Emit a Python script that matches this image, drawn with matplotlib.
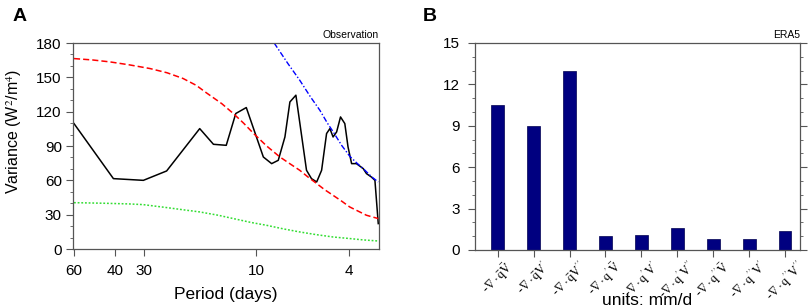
import numpy as np
import matplotlib
matplotlib.use("Agg")
import matplotlib.pyplot as plt
import matplotlib.transforms as mtransforms
from matplotlib.ticker import MultipleLocator, FixedLocator, NullLocator

plt.rcParams['font.family'] = ['Liberation Sans', 'DejaVu Sans']
plt.rcParams['mathtext.fontset'] = 'stix'

# ---- panel A data (period in days, variance) ----
obs_period = [60, 40.7, 30.3, 24.1, 17.4, 15.2, 13.4, 12.2, 11.0, 9.3, 8.57, 8.03,
              7.52, 7.16, 6.75, 6.08, 5.79, 5.5, 5.24, 4.99, 4.83, 4.68, 4.52,
              4.35, 4.17, 4.04, 3.90, 3.72, 3.48, 3.37, 3.21, 3.10, 3.0]
obs_var = [109.6, 61.5, 60.0, 68.2, 105.2, 91.5, 90.6, 118.4, 123.6, 80.4, 74.6, 77.5,
           97.9, 128.5, 134.4, 68.8, 61.5, 58.6, 68.8, 100.9, 105.2, 97.9, 102.3,
           115.4, 109.6, 89.2, 74.6, 74.6, 70.3, 65.9, 62.9, 60.0, 22.2]

red_period = [60, 50, 42.1, 35, 28.4, 24, 20.5, 18, 16.3, 14, 12.5, 11.3, 10.3, 9.0,
              7.9, 7.1, 6.5, 6.0, 5.5, 5.1, 4.68, 4.3, 3.97, 3.65, 3.37, 3.15, 3.0]
red_var = [166.4, 165.2, 163.5, 161.0, 157.7, 154.0, 149.0, 143.0, 136.5, 127.0, 118.4,
           110.0, 101.5, 90.0, 80.4, 74.0, 68.8, 63.0, 57.2, 52.0, 46.9, 41.8, 36.7,
           33.0, 29.5, 27.8, 26.6]

green_period = [60, 45, 35, 30.4, 24.1, 20, 17.4, 14.5, 12.5, 10.5, 9.0, 7.6, 6.5,
                5.5, 4.68, 4.0, 3.5, 3.0]
green_var = [40.5, 40.0, 39.4, 38.8, 36.2, 34.0, 32.4, 29.5, 26.6, 23.2, 20.7, 17.5,
             14.9, 12.5, 10.5, 9.2, 8.0, 7.0]

blue_period = [8.36, 7.3, 6.5, 5.85, 5.33, 4.95, 4.68, 4.3, 3.97, 3.7, 3.48, 3.2, 3.0]
blue_var = [180.0, 162.0, 147.5, 133.0, 121.2, 110.0, 102.5, 90.5, 81.0, 75.0, 70.3,
            63.0, 58.6]

period_ticks = [60, 40, 30, 10, 4]

# ---- panel B data ----
terms = [r'-$\nabla\cdot\mathrm{\bar{q}\bar{V}}$', r"-$\nabla\cdot\mathrm{\bar{q}V'}$",
         r"-$\nabla\cdot\mathrm{\bar{q}V''}$", r"-$\nabla\cdot\mathrm{q'\bar{V}}$",
         r"-$\nabla\cdot\mathrm{q'V'}$", r"-$\nabla\cdot\mathrm{q'V''}$",
         r"-$\nabla\cdot\mathrm{q''\bar{V}}$", r"-$\nabla\cdot\mathrm{q''V'}$",
         r"-$\nabla\cdot\mathrm{q''V''}$"]
era5_vals = [10.5, 9.0, 13.0, 1.0, 1.1, 1.6, 0.82, 0.78, 1.4]

frame = '#555555'

fig = plt.figure(figsize=(8.09, 3.07), dpi=100)

# ---------------- Panel A ----------------
ax1 = fig.add_axes([0.0902, 0.1889, 0.3782, 0.671])
ax1.plot(obs_period, obs_var, color='black', lw=1.1)
ax1.plot(red_period, red_var, color='red', lw=1.1, dashes=(4, 2))
ax1.plot(green_period, green_var, color='#33dd33', lw=1.1, dashes=(1.2, 1.2))
ax1.plot(blue_period, blue_var, color='blue', lw=1.0, dashes=(4, 1.5, 1, 1.5))
ax1.set_xscale('log')
ax1.set_xlim(60.6, 2.98)
ax1.set_ylim(0, 180)
ax1.xaxis.set_major_locator(FixedLocator(period_ticks))
ax1.xaxis.set_minor_locator(NullLocator())
ax1.set_xticklabels([str(p) for p in period_ticks])
ax1.yaxis.set_major_locator(MultipleLocator(30))
ax1.yaxis.set_minor_locator(MultipleLocator(10))
ax1.tick_params(axis='both', which='major', direction='out', length=5, width=0.8,
                color=frame, labelsize=11)
ax1.tick_params(axis='y', which='major', pad=3)
ax1.tick_params(axis='x', which='major', pad=6)
ax1.tick_params(axis='y', which='minor', direction='out', length=2.5, width=0.6, color=frame)
for s in ax1.spines.values():
    s.set_color(frame)
    s.set_linewidth(0.9)
ax1.set_xlabel('Period (days)', fontsize=12.5)
ax1.xaxis.set_label_coords(0.5, -0.185)
ax1.set_ylabel(r'Variance (W$^{2}$/m$^{4}$)', fontsize=11.5)
ax1.yaxis.set_label_coords(-0.16, 0.57)
ax1.text(1.0, 1.015, 'Observation', transform=ax1.transAxes, ha='right', va='bottom',
         fontsize=7.5, family=['Liberation Sans Narrow', 'Liberation Sans'])

# ---------------- Panel B ----------------
ax2 = fig.add_axes([0.5871, 0.1857, 0.4017, 0.6743])
xpos = np.arange(1, len(era5_vals) + 1)
ax2.bar(xpos, era5_vals, width=0.35, color='#000080', edgecolor='#000050', linewidth=0.5)
ax2.set_xlim(0.37, 9.41)
ax2.set_ylim(0, 15)
ax2.set_xticks(xpos)
ax2.set_xticklabels(terms, rotation=45, ha='center', va='top', fontsize=9,
                    family=['Liberation Serif', 'DejaVu Serif'])
shift = mtransforms.ScaledTranslation(4 / 100, 0, fig.dpi_scale_trans)
for lab in ax2.get_xticklabels():
    lab.set_transform(lab.get_transform() + shift)
ax2.yaxis.set_major_locator(MultipleLocator(3))
ax2.yaxis.set_minor_locator(MultipleLocator(1))
ax2.tick_params(axis='x', which='major', direction='out', length=5, width=0.8, color=frame, pad=1)
ax2.tick_params(axis='y', which='major', direction='out', length=5, width=0.8, color=frame,
                labelsize=11, pad=6, right=True)
ax2.tick_params(axis='y', which='minor', direction='out', length=2.5, width=0.6, color=frame,
                right=True)
for s in ax2.spines.values():
    s.set_color(frame)
    s.set_linewidth(0.9)
ax2.set_xlabel('units: mm/d', fontsize=12.5)
ax2.xaxis.set_label_coords(0.53, -0.21)
ax2.text(1.0, 1.015, 'ERA5', transform=ax2.transAxes, ha='right', va='bottom',
         fontsize=7.5, family=['Liberation Sans Narrow', 'Liberation Sans'])

fig.text(0.015, 0.93, 'A', fontsize=14, fontweight='bold')
fig.text(0.522, 0.93, 'B', fontsize=14, fontweight='bold')

fig.savefig('out.png', dpi=100)
